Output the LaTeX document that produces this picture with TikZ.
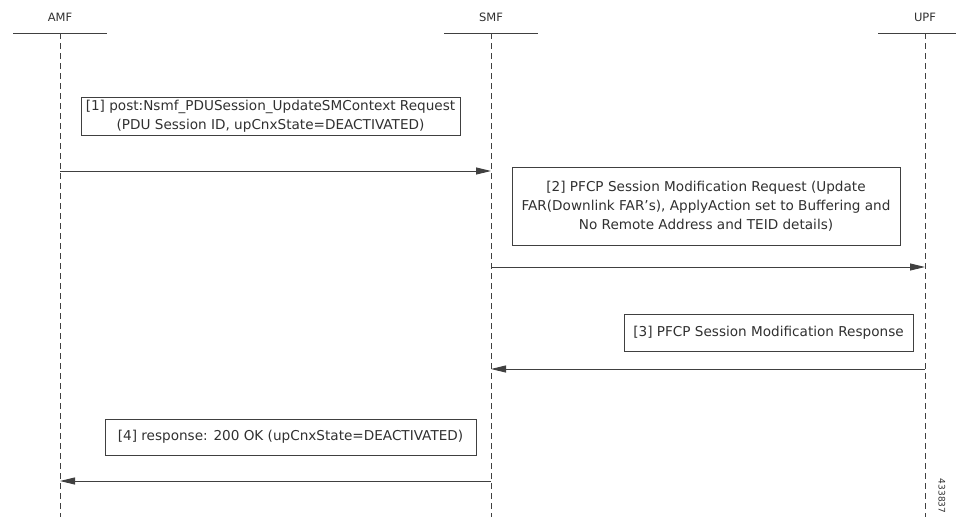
\documentclass[tikz,border=0pt]{standalone}
\usepackage{fontspec}
\setmainfont{DejaVu Sans}
\usetikzlibrary{arrows.meta}

\definecolor{linegray}{HTML}{404040}
\definecolor{textgray}{HTML}{303030}

\begin{document}
\begin{tikzpicture}[x = 1pt, y = -1pt, > = {Triangle[length = 15pt, width = 7pt]},
	lifeline/.style = {linegray, line width = 0.9pt, dash pattern = on 6pt off 4pt},
	header/.style = {linegray, line width = 0.8pt},
	msgbox/.style = {draw = linegray, line width = 0.6pt, text = textgray, align = center, inner sep = 0pt},
	msg/.style = {->, linegray, line width = 0.9pt},
	font = \fontsize{13.6}{19}\selectfont]

	\useasboundingbox (0, 0) rectangle (956, 523);

	% Definition

	\def\Top{33}		% Header bar level
	\def\Bot{517}		% Lifeline end
	\def\W{47}		% Half width of header bar

	% Entities with header bars and lifelines

	\foreach \N/\X/\L in {amf/60/AMF, smf/491/SMF, upf/925/UPF} {
		\node [textgray, font = \fontsize{11.5}{13}\selectfont] (\N) at (\X, 17) {\L};
		\coordinate (\N top) at (\X, \Top);
		\coordinate (\N bot) at (\X, \Bot);
		\draw [header] (\X - \W, \Top) -- (\X + \W, \Top);
		\draw [lifeline] (\N top) -- (\N bot);
	}

	% Message texts

	\node [msgbox, minimum width = 379, minimum height = 38] (box1) at (270.5, 116)
		{[1] post:Nsmf\_PDUSession\_UpdateSMContext Request\\(PDU Session ID, upCnxState=DEACTIVATED)};
	\node [msgbox, minimum width = 388, minimum height = 78] (box2) at (706, 206)
		{[2] PFCP Session Modification Request (Update\\FAR(Downlink FAR’s), ApplyAction set to Buffering and\\No Remote Address and TEID details)};
	\node [msgbox, minimum width = 289, minimum height = 37] (box3) at (768.5, 332.5)
		{[3] PFCP Session Modification Response};
	\node [msgbox, minimum width = 371, minimum height = 36] (box4) at (290.5, 437)
		{[4] response: 200 OK (upCnxState=DEACTIVATED)};

	% Messages between lifelines

	\foreach \A/\B/\Y in {amf/smf/171, smf/upf/267, upf/smf/369, smf/amf/481}
		\draw [msg] (\A top |- 0, \Y) -- (\B top |- 0, \Y);

	\node [textgray, rotate = -90, font = \fontsize{9}{10}\selectfont] (fig) at (942, 496) {433837};

\end{tikzpicture}
\end{document}
